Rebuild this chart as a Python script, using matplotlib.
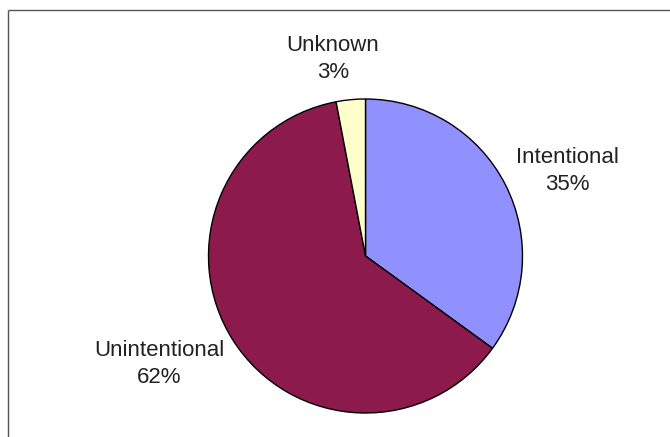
import matplotlib
matplotlib.use("Agg")
import matplotlib.pyplot as plt

categories = ["Intentional", "Unintentional", "Unknown"]
shares = [35, 62, 3]
colors = ["#9090FF", "#8C1A4C", "#FFFFCC"]

W, H = 670, 437
fig = plt.figure(figsize=(W / 100, H / 100), dpi=100)
ax = fig.add_axes([0, 0, 1, 1])

cx, cy, r = 365.5, H - 256, 157
ax.pie(shares, colors=colors, startangle=90, counterclock=False,
       center=(cx, cy), radius=r, frame=True,
       wedgeprops=dict(edgecolor="black", linewidth=1.0))
ax.set_xlim(0, W)
ax.set_ylim(0, H)
ax.set_aspect("equal")
ax.axis("off")

# chart area border
ax.plot([8, 8], [0, H - 10], color="#555555", lw=1.0, solid_capstyle="butt")
ax.plot([8, W], [H - 10, H - 10], color="#555555", lw=1.0, solid_capstyle="butt")

label_pos = {"Intentional": (567, 171), "Unintentional": (159, 364), "Unknown": (333, 59)}
for name, val in zip(categories, shares):
    x, y = label_pos[name]
    ax.text(x, H - y, f"{name}\n{val}%", ha="center", va="center",
            fontsize=16, family="Liberation Sans", color="#222222",
            linespacing=1.35)

fig.savefig("out.png", dpi=100)
